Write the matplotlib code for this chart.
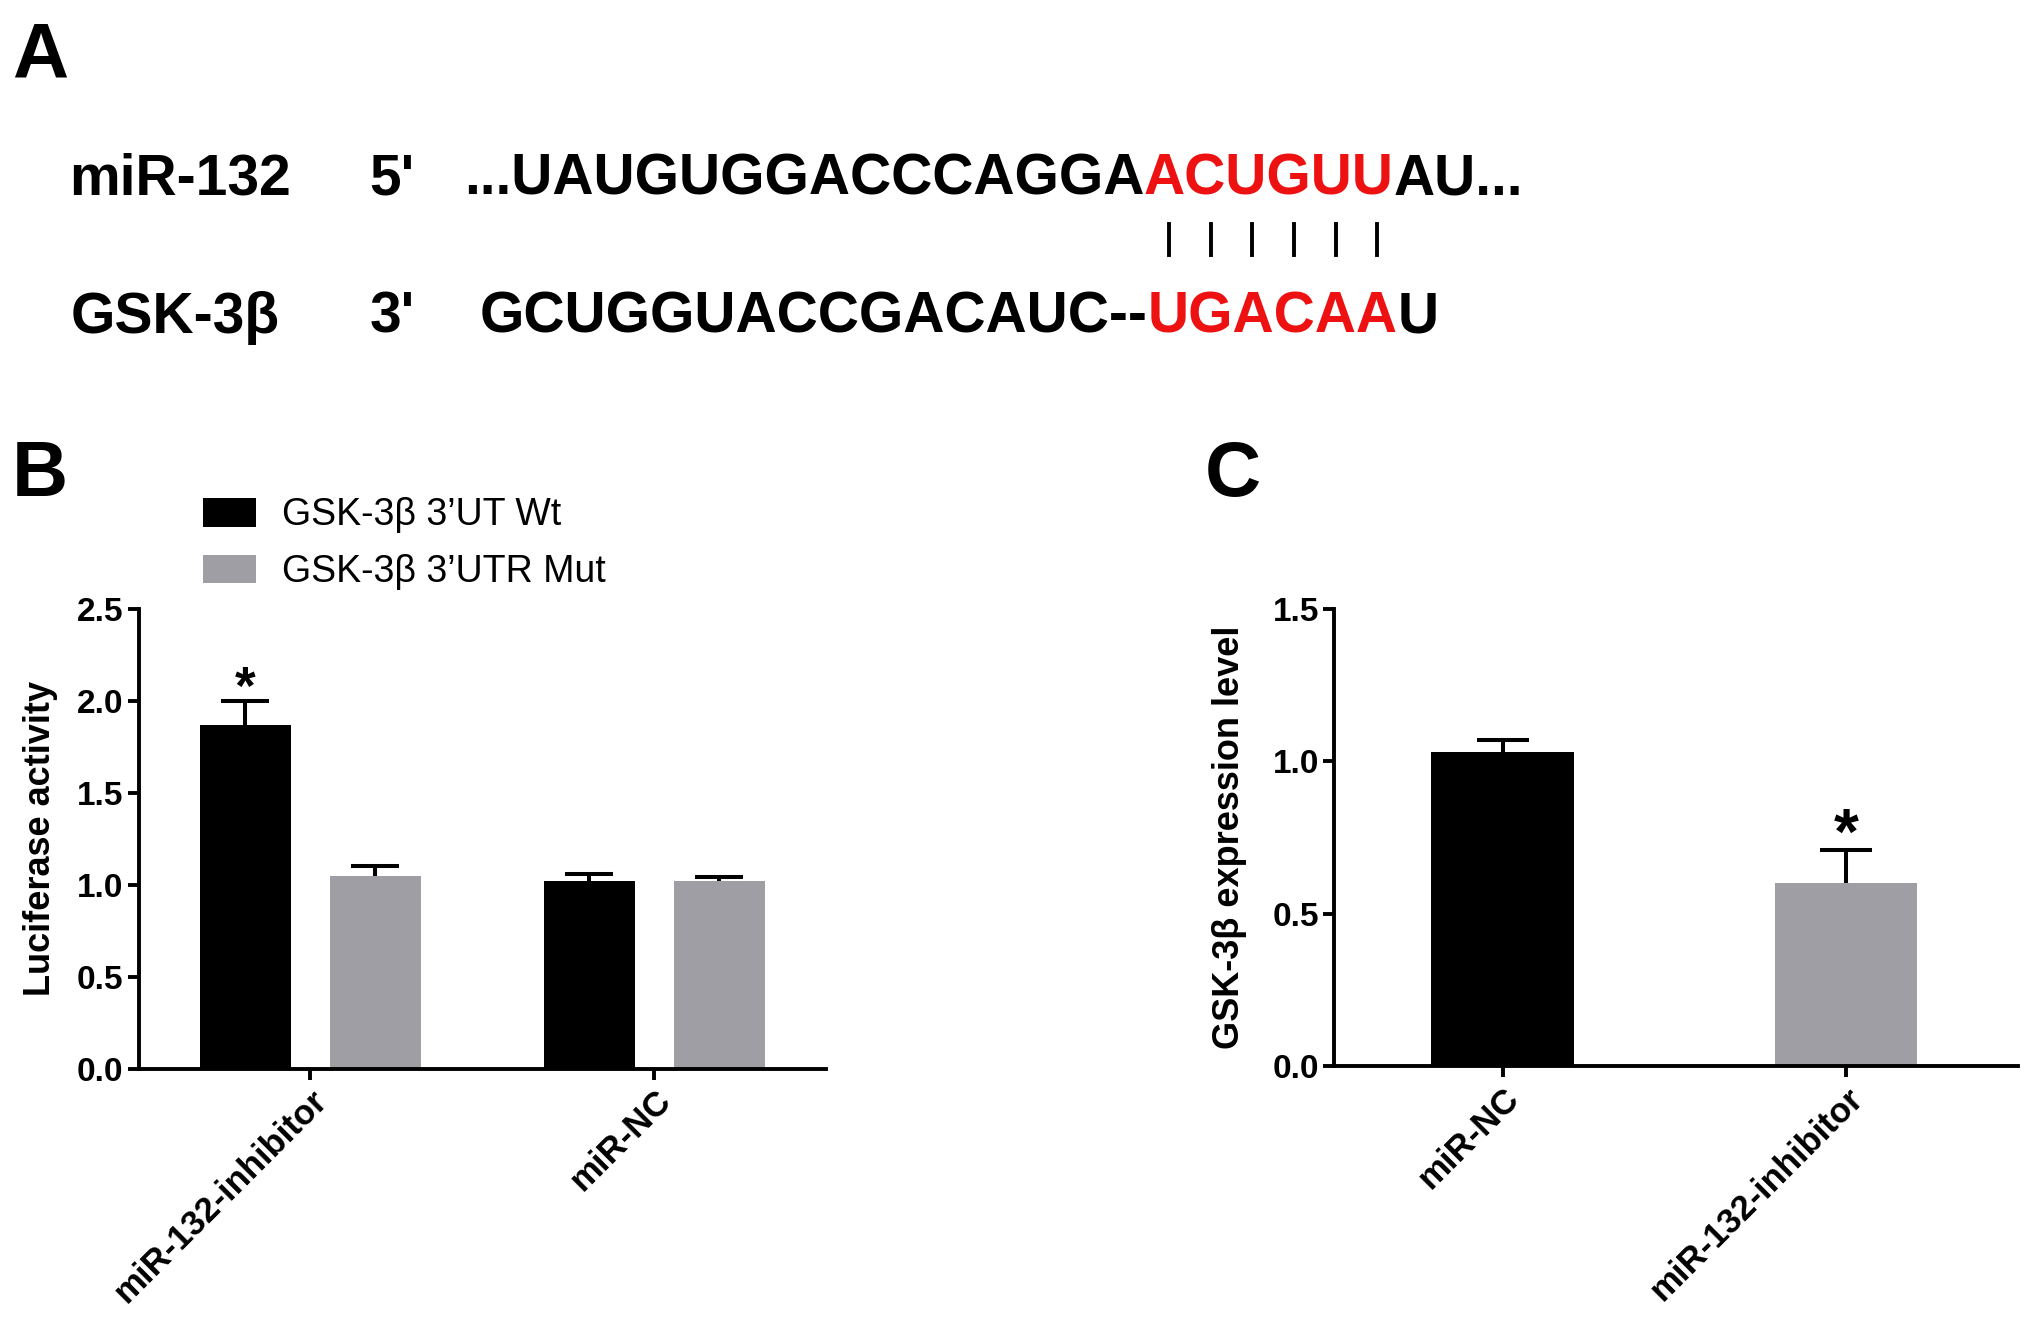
import numpy as np
import matplotlib
matplotlib.use('Agg')
import matplotlib.pyplot as plt
from matplotlib.patches import Patch
from matplotlib.lines import Line2D

plt.rcParams['font.family'] = ['Liberation Sans', 'DejaVu Sans']

# A: sequence alignment (black / red / black pieces)
mir_name = 'miR-132'
mir_end = "5'"
mir_seq = ['...UAUGUGGACCCAGGA', 'ACUGUU', 'AU...']
gsk_name = 'GSK-3β'
gsk_end = "3'"
gsk_seq = ['GCUGGUACCGACAUC--', 'UGACAA', 'U']
seq_colors = ['black', '#ee1111', 'black']
n_pairs = 6

# B: luciferase activity
groups_b = ['miR-132-inhibitor', 'miR-NC']
series_b = ['GSK-3β 3’UT Wt', 'GSK-3β 3’UTR Mut']
wt_mean = [1.87, 1.02]
wt_err = [0.13, 0.04]
mut_mean = [1.05, 1.02]
mut_err = [0.05, 0.02]
sig_b = [True, False]

# C: GSK-3b expression
groups_c = ['miR-NC', 'miR-132-inhibitor']
expr_mean = [1.03, 0.60]
expr_err = [0.04, 0.11]
sig_c = [False, True]

black = '#000000'
gray = '#9e9ea4'

fig = plt.figure(figsize=(20.31, 13.2), dpi=100)
axA = fig.add_axes([0, 0, 1, 1])
axA.axis('off')
axA.set_xlim(0, 1)
axA.set_ylim(0, 1)

# panel letters
fig.text(0.006, 0.941, 'A', fontsize=56, fontweight='bold')
fig.text(0.006, 0.624, 'B', fontsize=56, fontweight='bold')
fig.text(0.593, 0.624, 'C', fontsize=56, fontweight='bold')

def seq_line(x0, y0, parts):
    t = axA.text(x0, y0, parts[0], color=seq_colors[0], fontsize=41,
                 fontweight='bold', va='baseline', ha='left')
    texts = [t]
    for p, c in zip(parts[1:], seq_colors[1:]):
        t = axA.annotate(p, xy=(1, 0), xycoords=t, va='bottom', ha='left',
                         color=c, fontsize=41, fontweight='bold')
        texts.append(t)
    return texts

fs_a = 41
axA.text(0.034, 0.853, mir_name, fontsize=fs_a, fontweight='bold')
axA.text(0.182, 0.853, mir_end, fontsize=fs_a, fontweight='bold')
mir_texts = seq_line(0.2283, 0.853, mir_seq)
axA.text(0.035, 0.748, gsk_name, fontsize=fs_a, fontweight='bold')
axA.text(0.182, 0.748, gsk_end, fontsize=fs_a, fontweight='bold')
gsk_texts = seq_line(0.236, 0.748, gsk_seq)

# base pairing ticks under the red seed
fig.canvas.draw()
bb = mir_texts[1].get_window_extent()
inv = fig.transFigure.inverted()
(xa, _), (xb, _) = inv.transform([(bb.x0, bb.y0), (bb.x1, bb.y1)])
step = (xb - xa) / n_pairs
for i in range(n_pairs):
    xp = xa + (i + 0.5) * step + 0.002
    axA.add_line(Line2D([xp, xp], [0.807, 0.830], color='black', lw=2.8))

def upper_err(ax, xs, means, errs, cap):
    # one-sided (upper) error bars, no cap at the bar top
    eb = ax.errorbar(xs, means, yerr=[np.zeros(len(xs)), errs], fmt='none',
                     ecolor='black', elinewidth=2.9, capsize=cap, capthick=2.9)
    for cl in eb[1]:
        if np.allclose(cl.get_ydata(), means):
            cl.set_visible(False)

def style_axis(ax):
    for s in ['top', 'right']:
        ax.spines[s].set_visible(False)
    for s in ['left', 'bottom']:
        ax.spines[s].set_linewidth(2.8)
    ax.tick_params(axis='both', width=2.8, length=8, direction='out', pad=3)
    for lab in ax.get_yticklabels():
        lab.set_fontsize(24)
        lab.set_fontweight('bold')
    for lab in ax.get_xticklabels():
        lab.set_fontsize(25)
        lab.set_fontweight('bold')
        lab.set_rotation(45)
        lab.set_ha('right')
        lab.set_rotation_mode('anchor')

# B
axB = fig.add_axes([0.0682, 0.1904, 0.3387, 0.3484])
x = np.arange(len(groups_b))
w = 0.264
off = 0.189
axB.bar(x - off, wt_mean, w, color=black)
axB.bar(x + off, mut_mean, w, color=gray)
upper_err(axB, x - off, wt_mean, wt_err, 17)
upper_err(axB, x + off, mut_mean, mut_err, 17)
for i in range(len(x)):
    if sig_b[i]:
        axB.annotate('*', xy=(x[i] - off, wt_mean[i] + wt_err[i]), xytext=(0, -10),
                     textcoords='offset points', ha='center', va='bottom',
                     fontsize=38, fontweight='bold')
axB.set_xlim(-0.5, 1.5)
axB.set_ylim(0, 2.5)
axB.set_yticks(np.arange(0, 2.51, 0.5))
axB.set_yticklabels(['%.1f' % v for v in np.arange(0, 2.51, 0.5)])
axB.set_xticks(x)
axB.set_xticklabels(groups_b)
axB.set_ylabel('Luciferase activity', fontsize=26, fontweight='bold')
axB.yaxis.set_label_coords(-0.117, 0.5)
style_axis(axB)

handles = [Patch(facecolor=black, label=series_b[0]),
           Patch(facecolor=gray, label=series_b[1])]
axB.legend(handles=handles, loc='upper left', bbox_to_anchor=(157 / 1568, 1 - 384 / 1019),
           bbox_transform=fig.transFigure, frameon=False, fontsize=27,
           handlelength=1.4, handleheight=0.8, handletextpad=0.7,
           labelspacing=0.55, borderpad=0, borderaxespad=0)

# C
axC = fig.add_axes([0.6569, 0.1923, 0.3367, 0.3465])
xc = np.arange(len(groups_c))
axC.bar(xc, expr_mean, 0.415, color=[black, gray])
upper_err(axC, xc, expr_mean, expr_err, 19)
for i in range(len(xc)):
    if sig_c[i]:
        axC.annotate('*', xy=(xc[i], expr_mean[i] + expr_err[i]), xytext=(0, -12),
                     textcoords='offset points', ha='center', va='bottom',
                     fontsize=46, fontweight='bold')
axC.set_xlim(-0.49, 1.5)
axC.set_ylim(0, 1.5)
axC.set_yticks(np.arange(0, 1.51, 0.5))
axC.set_yticklabels(['%.1f' % v for v in np.arange(0, 1.51, 0.5)])
axC.set_xticks(xc)
axC.set_xticklabels(groups_c)
axC.set_ylabel('GSK-3β expression level', fontsize=26, fontweight='bold')
axC.yaxis.set_label_coords(-0.127, 0.5)
style_axis(axC)

fig.savefig('out.png', dpi=100)
